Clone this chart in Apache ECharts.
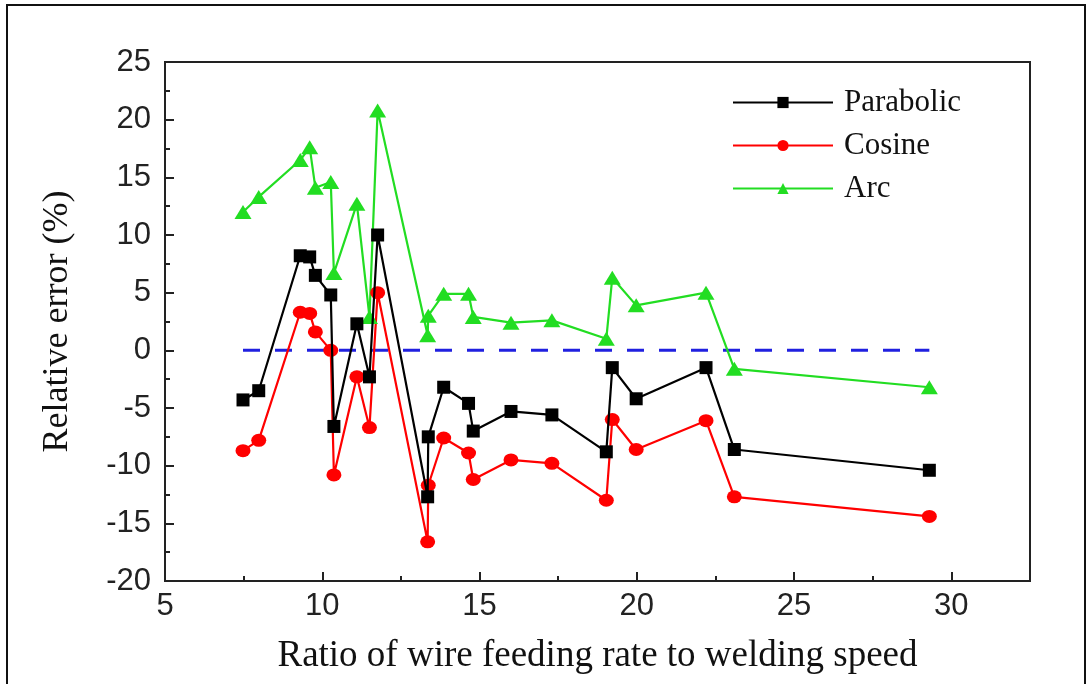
<!DOCTYPE html>
<html>
<head>
<meta charset="utf-8">
<script src="https://cdn.jsdelivr.net/npm/echarts@6/dist/echarts.min.js"></script>
<style>
  html, body { margin: 0; padding: 0; background: #fff; }
  #chart { width: 1091px; height: 684px; }
</style>
</head>
<body>
<div id="chart"></div>
<script>
// ratio of wire feeding rate to welding speed (shared by all three models)
const ratio = [7.48, 7.98, 9.3, 9.6, 9.78, 10.27, 10.37, 11.1, 11.5, 11.76, 13.35, 13.37,
  13.86, 14.65, 14.8, 16.0, 17.3, 19.03, 19.22, 19.98, 22.2, 23.1, 29.3]
// relative error (%)
const parabolic = [-4.3, -3.5, 8.2, 8.1, 6.5, 4.8, -6.6, 2.3, -2.3, 10.0, -12.7, -7.5,
  -3.2, -4.6, -7.0, -5.3, -5.6, -8.8, -1.5, -4.2, -1.5, -8.6, -10.4]
const cosine = [-8.7, -7.8, 3.3, 3.2, 1.6, 0.0, -10.8, -2.3, -6.7, 5.0, -16.6, -11.7,
  -7.6, -8.9, -11.2, -9.5, -9.8, -13.0, -6.0, -8.6, -6.1, -12.7, -14.4]
const arc = [12.0, 13.3, 16.5, 17.6, 14.1, 14.6, 6.7, 12.7, 2.9, 20.8, 1.3, 3.0,
  4.9, 4.9, 2.9, 2.4, 2.6, 1.0, 6.3, 3.9, 5.0, -1.6, -3.2]
const zeroLine = 0

const xTicks = { min: 5, max: 32.5, interval: 5 }
const yTicks = { min: -20, max: 25, interval: 5 }

const pair = ys => ys.map((y, i) => [ratio[i], y])

const chart = echarts.init(document.getElementById('chart'))
chart.setOption({
  animation: false,
  backgroundColor: '#fff',
  graphic: [{
    type: 'rect',
    shape: { x: 7, y: 5, width: 1078, height: 700 },
    style: { fill: 'none', stroke: '#111', lineWidth: 2 },
    silent: true
  }],
  grid: {
    left: 165,
    top: 62,
    right: 61,
    bottom: 103,
    show: true,
    borderColor: '#222',
    borderWidth: 2
  },
  legend: {
    orient: 'vertical',
    left: 727,
    top: 82,
    itemWidth: 100,
    itemHeight: 14,
    itemGap: 12,
    textStyle: {
      fontFamily: 'Liberation Serif',
      fontSize: 31,
      color: '#111',
      padding: [0, 0, 0, 6]
    },
    data: ['Parabolic', 'Cosine', 'Arc']
  },
  xAxis: {
    type: 'value',
    min: xTicks.min,
    max: xTicks.max,
    interval: xTicks.interval,
    name: 'Ratio of wire feeding rate to welding speed',
    nameLocation: 'middle',
    nameGap: 57,
    nameTextStyle: { fontFamily: 'Liberation Serif', fontSize: 37, color: '#111' },
    axisLine: { onZero: false, lineStyle: { color: '#222', width: 2 } },
    axisTick: { inside: true, length: 9, lineStyle: { color: '#222', width: 2 } },
    minorTick: { show: true, splitNumber: 2, length: 5, lineStyle: { color: '#222', width: 2 } },
    axisLabel: {
      showMaxLabel: false,
      margin: 10,
      fontFamily: 'Liberation Sans',
      fontSize: 31,
      color: '#222'
    },
    splitLine: { show: false }
  },
  yAxis: {
    type: 'value',
    min: yTicks.min,
    max: yTicks.max,
    interval: yTicks.interval,
    name: 'Relative error (%)',
    nameLocation: 'middle',
    nameGap: 89,
    nameTextStyle: { fontFamily: 'Liberation Serif', fontSize: 36, color: '#111' },
    axisLine: { onZero: false, lineStyle: { color: '#222', width: 2 } },
    axisTick: { inside: true, length: 9, lineStyle: { color: '#222', width: 2 } },
    minorTick: { show: true, splitNumber: 2, length: 5, lineStyle: { color: '#222', width: 2 } },
    axisLabel: {
      margin: 14,
      fontFamily: 'Liberation Sans',
      fontSize: 31,
      color: '#222'
    },
    splitLine: { show: false }
  },
  series: [
    {
      name: 'zero',
      type: 'line',
      symbol: 'none',
      silent: true,
      lineStyle: { color: '#2020e0', width: 3, type: [17, 15] },
      data: [[ratio[0], zeroLine], [ratio[ratio.length - 1], zeroLine]],
      z: 1
    },
    {
      name: 'Parabolic',
      type: 'line',
      symbol: 'rect',
      symbolSize: 13,
      itemStyle: { color: '#000' },
      lineStyle: { color: '#000', width: 2.2 },
      data: pair(parabolic),
      z: 3
    },
    {
      name: 'Cosine',
      type: 'line',
      symbol: 'circle',
      symbolSize: [15, 13],
      itemStyle: { color: '#ff0000' },
      lineStyle: { color: '#ff0000', width: 2.2 },
      data: pair(cosine),
      z: 2
    },
    {
      name: 'Arc',
      type: 'line',
      symbol: 'triangle',
      symbolSize: [17, 14],
      itemStyle: { color: '#22dd22' },
      lineStyle: { color: '#22dd22', width: 2.2 },
      data: pair(arc),
      z: 2
    }
  ]
})
</script>
</body>
</html>
